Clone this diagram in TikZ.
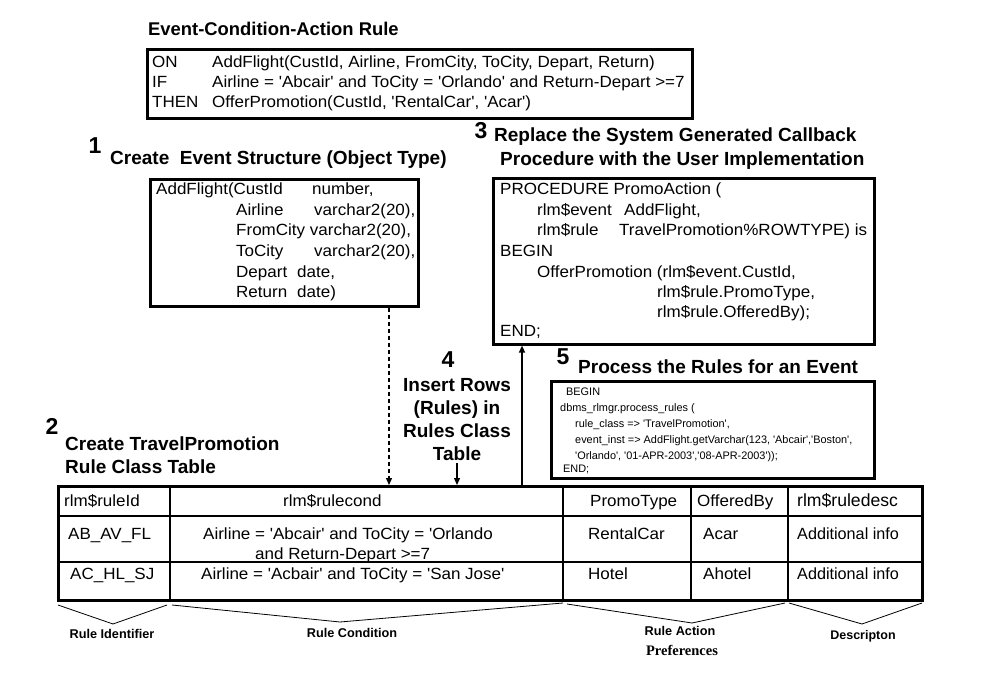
\documentclass[tikz,border=0pt]{standalone}
\usepackage{fontspec}
\setmainfont{Liberation Sans}[Ligatures=TeXOff]
\newfontfamily\bodyf{Liberation Sans}[Ligatures=TeXOff, FakeStretch=1.05]
\newfontfamily\serifb{Liberation Serif}[Ligatures=TeXOff]
\usetikzlibrary{arrows.meta,calc}
\begin{document}
\begin{tikzpicture}[x=1pt,y=-1pt,
  box/.style={draw, line width=2.6pt, inner sep=0, anchor=north west},
  txt/.style={anchor=base west, inner sep=0, font=\bodyf\fontsize{16.2}{19}\selectfont},
  small/.style={anchor=base west, inner sep=0, font=\fontsize{10.9}{12}\selectfont},
  ttl/.style={anchor=base west, inner sep=0, font=\bfseries\fontsize{19}{22}\selectfont},
  ttlc/.style={anchor=base, inner sep=0, font=\bfseries\fontsize{19}{22}\selectfont},
  num/.style={anchor=base, inner sep=0, font=\bfseries\fontsize{23}{25}\selectfont},
  lbl/.style={anchor=base, inner sep=0, font=\bfseries\fontsize{12.7}{14}\selectfont},
  tip/.style={-{Triangle[length=7pt,width=6pt]}},
  brace/.style={line width=0.8pt},
  grid/.style={line width=1.8pt}
]
\useasboundingbox[fill=white] (0,0) rectangle (987,676);

% ---------- ECA rule ----------
\node[anchor=base west, inner sep=0, font=\bfseries\fontsize{18.4}{22}\selectfont] (ecat) at (148,36) {Event-Condition-Action Rule};
\node[box, minimum width=545pt, minimum height=69pt] (eca) at (146,48) {};
\node[txt] (on) at (152,68) {ON};
\node[txt] (if) at (152,88) {IF};
\node[txt] (then) at (152,108) {THEN};
\node[txt] (onx) at (212,68) {AddFlight(CustId, Airline, FromCity, ToCity, Depart, Return)};
\node[txt] (ifx) at (212,88) {Airline = 'Abcair' and ToCity = 'Orlando' and Return-Depart >=7};
\node[txt] (thenx) at (212,108) {OfferPromotion(CustId, 'RentalCar', 'Acar')};

% ---------- Step 1 ----------
\node[num] (n1) at (95,154) {1};
\node[ttl] (t1) at (110,165) {Create\ \ Event Structure (Object Type)};
\node[box, minimum width=268pt, minimum height=127pt] (evt) at (149,178) {};
\node[txt] (e1) at (156,195) {AddFlight(CustId};
\node[txt] (e1b) at (312,195) {number,};
\node[txt] (e2) at (236,216) {Airline};
\node[txt] (e2b) at (314,216) {varchar2(20),};
\node[txt] (e3) at (236,236) {FromCity varchar2(20),};
\node[txt] (e4) at (236,256) {ToCity};
\node[txt] (e4b) at (314,256) {varchar2(20),};
\node[txt] (e5) at (236,277) {Depart};
\node[txt] (e5b) at (297,277) {date,};
\node[txt] (e6) at (236,297) {Return};
\node[txt] (e6b) at (297,297) {date)};

% ---------- Step 3 ----------
\node[num] (n3) at (481,139) {3};
\node[ttl] (t3a) at (494,142) {Replace the System Generated Callback};
\node[ttl] (t3b) at (500,166) {Procedure with the User Implementation};
\node[box, minimum width=381pt, minimum height=166pt] (proc) at (492,177) {};
\node[txt] (p1) at (500,195) {PROCEDURE PromoAction (};
\node[txt] (p2) at (537,216) {rlm\$event};
\node[txt] (p2b) at (624,216) {AddFlight,};
\node[txt] (p3) at (537,236) {rlm\$rule};
\node[txt] (p3b) at (619,236) {TravelPromotion\%ROWTYPE) is};
\node[txt] (p4) at (500,256) {BEGIN};
\node[txt] (p5) at (537,277) {OfferPromotion (rlm\$event.CustId,};
\node[txt] (p6) at (657,297) {rlm\$rule.PromoType,};
\node[txt] (p7) at (657,317) {rlm\$rule.OfferedBy);};
\node[txt] (p8) at (500,336) {END;};

% ---------- Step 4 ----------
\node[num] (n4) at (448,367) {4};
\node[ttlc] (t4a) at (457,391) {Insert Rows};
\node[ttlc] (t4b) at (457,414) {(Rules) in};
\node[ttlc] (t4c) at (457,437) {Rules Class};
\node[ttlc] (t4d) at (457,460) {Table};

% ---------- Step 5 ----------
\node[num] (n5) at (563,364) {5};
\node[ttl] (t5) at (578,373) {Process the Rules for an Event};
\node[box, minimum width=323pt, minimum height=97pt] (pr) at (550,380) {};
\node[small] (r1) at (566,395) {BEGIN};
\node[small] (r2) at (560,411) {dbms\_rlmgr.process\_rules (};
\node[small] (r3) at (575,427) {rule\_class => 'TravelPromotion',};
\node[small] (r4) at (575,443) {event\_inst => AddFlight.getVarchar(123, 'Abcair','Boston',};
\node[small] (r5) at (575,459) {'Orlando', '01-APR-2003','08-APR-2003'));};
\node[small] (r6) at (563,472) {END;};

% ---------- Step 2 ----------
\node[num] (n2) at (52,434) {2};
\node[ttl] (t2a) at (65,450) {Create TravelPromotion};
\node[ttl] (t2b) at (65,473) {Rule Class Table};

% ---------- Table ----------
\node[box, minimum width=864pt, minimum height=114pt] (tab) at (57,485) {};
\draw[grid] (170,485) -- (170,599);
\draw[grid] (563,485) -- (563,599);
\draw[grid] (691,485) -- (691,599);
\draw[grid] (788,485) -- (788,599);
\draw[grid] (57,516) -- (921,516);
\draw[grid] (57,562) -- (921,562);

\node[txt] (h1) at (64,506) {rlm\$ruleId};
\node[txt] (h2) at (283,506) {rlm\$rulecond};
\node[txt] (h3) at (590,506) {PromoType};
\node[txt] (h4) at (697,506) {OfferedBy};
\node[anchor=base west, inner sep=0, font=\fontsize{17.6}{20}\selectfont] (h5) at (797,506) {rlm\$ruledesc};

\node[txt] (a1) at (68,539) {AB\_AV\_FL};
\node[txt] (a2) at (203,539) {Airline = 'Abcair' and ToCity = 'Orlando};
\node[txt] (a2b) at (255,559) {and Return-Depart >=7};
\node[txt] (a3) at (588,539) {RentalCar};
\node[txt] (a4) at (703,539) {Acar};
\node[anchor=base west, inner sep=0, font=\fontsize{16.2}{19}\selectfont] (a5) at (797,539) {Additional info};

\node[txt] (b1) at (70,579) {AC\_HL\_SJ};
\node[txt] (b2) at (201,579) {Airline = 'Acbair' and ToCity = 'San Jose'};
\node[txt] (b3) at (588,579) {Hotel};
\node[txt] (b4) at (703,579) {Ahotel};
\node[anchor=base west, inner sep=0, font=\fontsize{16.2}{19}\selectfont] (b5) at (797,579) {Additional info};

% ---------- connectors ----------
\coordinate (dtop) at (389,485);
\coordinate (itop) at (457,485);
\coordinate (utop) at (522,485);
\draw[tip, dashed, line width=1.3pt, dash pattern=on 4pt off 3pt] (evt.south -| dtop) -- (dtop);
\draw[tip, line width=1.3pt] (t4d.south -| itop) ++(0,3) -- (itop);
\draw[tip, line width=1.3pt] (utop) -- (utop |- proc.south);

% ---------- braces ----------
\draw[brace] (58,605) -- (113,624) -- (167,605);
\draw[brace] (172,605) -- (340,622) -- (563,603);
\draw[brace] (567,604) -- (692,623) -- (785,603);
\draw[brace] (789,603) -- (862,624) -- (922,603);

\node[lbl] (l1) at (112,638) {Rule Identifier};
\node[lbl] (l2) at (352,637) {Rule Condition};
\node[lbl] (l3) at (680,635) {Rule Action};
\node[anchor=base, inner sep=0, font=\serifb\bfseries\fontsize{14.5}{16}\selectfont] (l3b) at (682,655) {Preferences};
\node[anchor=base, inner sep=0, font=\bfseries\fontsize{12.5}{14}\selectfont] (l4) at (863,639) {Descripton};
\end{tikzpicture}
\end{document}
